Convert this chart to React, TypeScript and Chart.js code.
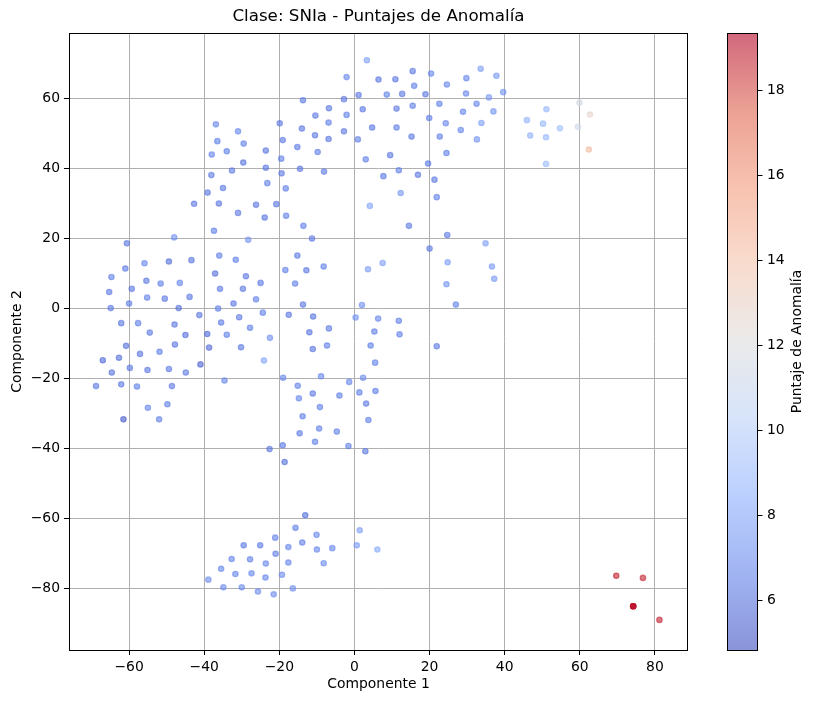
import { useEffect, useRef } from 'react';
import Chart from 'chart.js/auto';

// [Componente 1, Componente 2, Puntaje de Anomalía]
type Pt = [number, number, number];

const westCluster: Pt[] = [
  [-37.4, 22.1, 6.5], [-48.0, 20.2, 7.2], [-60.6, 18.5, 6.2], [-55.9, 12.8, 6.8],
  [-49.4, 13.3, 6.0], [-43.4, 13.7, 6.2], [-36.0, 15.0, 6.5], [-61.0, 11.3, 6.3],
  [-64.7, 8.9, 6.5], [-37.1, 9.9, 6.0], [-55.4, 7.8, 6.3], [-51.6, 7.0, 6.5],
  [-46.5, 7.2, 6.7], [-65.3, 4.6, 6.3], [-59.3, 5.5, 6.2], [-35.8, 5.5, 6.3],
  [-55.2, 3.0, 6.5], [-50.5, 2.7, 6.3], [-43.9, 3.2, 6.3], [-60.0, 1.3, 6.5],
  [-64.9, 0.0, 6.3], [-46.8, 0.0, 6.0], [-36.3, -0.1, 6.5], [-41.3, -2.0, 6.2],
  [-62.1, -4.3, 6.2], [-57.6, -4.3, 6.5], [-47.9, -4.7, 6.3], [-35.5, -4.1, 6.3],
  [-54.5, -7.0, 6.3], [-45.0, -7.7, 6.0], [-39.2, -7.4, 5.8], [-34.0, -7.6, 6.5],
  [-60.8, -10.8, 6.0], [-47.8, -10.4, 6.2], [-38.7, -11.3, 5.8], [-67.0, -14.9, 5.8],
  [-62.7, -14.2, 6.0], [-57.1, -13.1, 6.2], [-51.9, -12.5, 6.5], [-41.0, -16.1, 5.6],
  [-64.6, -18.4, 6.2], [-59.8, -17.1, 6.3], [-55.1, -17.7, 6.3], [-49.4, -17.4, 6.3],
  [-44.9, -18.4, 6.3], [-68.8, -22.3, 6.3], [-62.1, -21.8, 6.3], [-57.9, -22.4, 6.5],
  [-48.6, -22.3, 6.3], [-34.6, -20.7, 6.8], [-55.0, -28.5, 6.8], [-49.8, -27.5, 6.5],
  [-61.5, -31.8, 5.3], [-52.0, -31.8, 6.5],
];

const northCluster: Pt[] = [
  [-13.7, 59.4, 6.3], [-36.9, 52.5, 6.8], [-31.0, 50.5, 6.8], [-19.9, 52.8, 6.3],
  [-14.0, 51.3, 6.3], [-10.4, 55.0, 6.3], [-6.8, 57.1, 6.3], [-6.9, 53.0, 6.5],
  [-36.5, 47.7, 6.5], [-29.5, 47.0, 6.5], [-19.1, 48.0, 6.3], [-10.5, 49.4, 6.3],
  [-6.9, 48.3, 6.3], [-38.0, 43.9, 6.7], [-34.0, 44.8, 6.5], [-23.6, 45.0, 6.2],
  [-15.2, 46.0, 6.3], [-9.8, 44.6, 6.5], [-29.6, 41.6, 6.2], [-19.5, 42.7, 6.5],
  [-23.6, 40.1, 6.3], [-32.6, 39.3, 6.3], [-19.4, 38.5, 6.3], [-14.5, 39.8, 6.3],
  [-8.1, 39.0, 6.3], [-38.1, 38.0, 6.3], [-35.0, 34.3, 6.3], [-23.2, 35.7, 6.5],
  [-18.3, 34.2, 6.5], [-39.1, 33.0, 6.2], [-42.7, 29.8, 6.3], [-36.1, 29.9, 6.2],
  [-26.2, 29.5, 6.2], [-20.8, 29.7, 6.2], [-31.0, 27.2, 6.3], [-23.9, 25.9, 6.2],
  [-18.2, 26.4, 6.5], [-13.6, 23.5, 6.5], [-11.3, 19.9, 6.3], [-28.3, 19.5, 7.3],
  [-31.6, 13.8, 6.5], [-15.2, 15.0, 6.3], [-28.9, 9.1, 6.3], [-18.4, 10.9, 6.5],
  [-12.8, 10.8, 6.3], [-8.2, 11.9, 6.5],
  [3.3, 70.8, 7.8], [-2.1, 66.0, 6.8], [6.4, 65.3, 6.3], [10.9, 65.4, 6.3],
  [15.5, 67.7, 6.3], [15.9, 63.5, 6.5], [1.1, 60.9, 6.3], [8.6, 61.0, 6.5],
  [12.7, 61.2, 6.3], [-2.8, 59.7, 6.3], [2.2, 56.8, 6.3], [11.2, 57.0, 6.3],
  [15.5, 57.8, 6.5], [-2.1, 55.2, 6.5], [4.7, 51.6, 6.3], [11.2, 51.6, 6.5],
  [15.2, 49.0, 6.3], [-2.8, 50.5, 6.3], [0.9, 48.2, 6.5], [3.0, 42.5, 6.5],
  [9.5, 43.7, 6.3], [7.7, 37.7, 6.3], [11.8, 39.4, 6.5], [16.9, 38.1, 6.3],
  [12.3, 32.9, 7.5], [4.1, 29.2, 8.0], [14.5, 23.5, 6.3],
  [20.4, 67.0, 6.8], [18.9, 61.1, 6.3], [24.6, 63.9, 6.8], [29.8, 65.7, 6.8],
  [33.6, 68.4, 7.8], [37.8, 66.4, 7.5], [29.7, 61.3, 6.8], [35.8, 60.2, 7.5],
  [39.6, 61.7, 7.3], [22.6, 58.4, 6.5], [28.9, 56.1, 6.8], [32.5, 58.4, 6.8],
  [37.0, 56.2, 7.3], [19.9, 54.3, 6.5], [24.3, 52.8, 6.8], [33.8, 52.9, 7.8],
  [22.7, 49.0, 6.5], [28.3, 50.9, 6.8], [32.6, 48.2, 7.3], [24.5, 44.3, 6.5],
  [19.6, 41.3, 6.3], [21.3, 36.7, 6.3], [21.9, 31.7, 6.5], [24.7, 20.9, 6.3],
  [34.9, 18.5, 7.8], [36.6, 11.9, 7.5], [37.2, 8.4, 7.5],
];

const centralCluster: Pt[] = [
  [-29.7, 5.5, 6.3], [-25.0, 7.2, 6.3], [-15.8, 7.0, 6.5], [-32.2, 1.3, 6.3],
  [-26.2, 2.5, 6.5], [-13.7, 1.0, 6.2], [-30.7, -2.6, 6.3], [-24.4, -1.3, 6.5],
  [-17.5, -1.9, 6.3], [-11.0, -2.4, 6.2], [-27.8, -5.6, 6.5], [-22.5, -8.5, 7.2],
  [-12.0, -6.9, 6.2], [-6.8, -5.8, 6.3], [-7.3, -10.7, 6.5], [-30.2, -11.2, 6.3],
  [-11.1, -11.7, 6.2], [-24.1, -15.0, 8.0], [-19.0, -19.9, 6.8], [-8.9, -19.5, 6.8],
  [-15.1, -22.2, 6.7], [-11.1, -24.4, 6.3], [-14.8, -25.8, 6.8], [-9.2, -28.3, 6.5],
  [-13.8, -30.9, 6.5], [-9.4, -34.4, 6.5], [-14.6, -35.8, 6.3], [-10.5, -38.2, 6.5],
  [-22.6, -40.3, 6.2], [-19.1, -39.2, 6.3], [-18.6, -44.0, 6.0],
  [3.6, 11.1, 7.8], [7.5, 12.9, 7.8], [20.0, 17.0, 6.3], [24.8, 13.1, 7.8],
  [24.5, 6.8, 7.3], [2.0, 0.9, 7.2], [0.3, -2.7, 7.3], [6.3, -3.0, 6.8],
  [11.8, -3.6, 6.5], [5.3, -6.7, 6.5], [12.0, -7.5, 6.5], [4.3, -10.7, 6.5],
  [21.9, -10.9, 6.3], [5.5, -15.6, 6.5], [-1.4, -21.1, 6.8], [2.3, -19.9, 7.0],
  [-4.0, -25.0, 6.5], [1.3, -24.1, 6.5], [5.6, -23.7, 6.5], [3.1, -27.3, 6.3],
  [3.7, -32.0, 6.5], [-4.7, -35.3, 6.5], [-1.6, -39.4, 6.5], [2.9, -40.9, 6.2],
  [27.0, 1.0, 6.5],
];

const eastGroup: Pt[] = [
  [45.9, 53.7, 8.6], [51.1, 56.8, 8.8], [50.2, 52.7, 8.8], [54.7, 51.4, 9.2],
  [46.8, 49.3, 8.6], [51.0, 48.8, 8.8], [51.0, 41.2, 9.0], [59.9, 58.7, 11.5],
  [62.7, 55.3, 12.8], [59.5, 51.8, 11.3], [62.4, 45.3, 14.3],
];

const southCluster: Pt[] = [
  [-13.1, -59.2, 6.0], [-15.7, -62.8, 6.5], [-10.1, -64.8, 6.8], [1.4, -63.5, 7.8],
  [-21.1, -65.6, 6.5], [-13.9, -67.0, 6.5], [-29.5, -67.8, 6.3], [-25.1, -67.8, 6.3],
  [-17.6, -68.3, 6.8], [-10.0, -69.0, 6.8], [-5.9, -68.6, 6.8], [0.6, -67.8, 7.5],
  [6.1, -69.0, 8.3], [-21.0, -70.2, 6.5], [-32.7, -71.7, 6.8], [-27.8, -71.8, 6.5],
  [-23.6, -73.0, 6.8], [-17.6, -72.7, 6.8], [-8.2, -72.9, 7.0], [-35.5, -74.5, 6.8],
  [-31.7, -76.0, 6.8], [-27.4, -75.8, 6.8], [-23.7, -77.0, 6.8], [-19.3, -76.2, 7.0],
  [-38.9, -77.6, 7.0], [-34.9, -79.8, 7.0], [-30.0, -79.8, 7.0], [-25.7, -81.0, 7.0],
  [-21.5, -81.8, 7.0], [-16.4, -80.1, 7.2],
];

const outliers: Pt[] = [
  [69.7, -76.5, 18.8], [76.8, -77.1, 18.7], [81.2, -89.1, 18.8],
  [74.2, -85.2, 19.3], [74.2, -85.2, 19.2], [74.2, -85.2, 19.1], [74.2, -85.2, 19.0],
];

const xTicks = [-60, -40, -20, 0, 20, 40, 60, 80];
const yTicks = [-80, -60, -40, -20, 0, 20, 40, 60];
const cbTicks = [6, 8, 10, 12, 14, 16, 18];
const scoreMin = 4.82;
const scoreMax = 19.35;

const FONT = '"DejaVu Sans", sans-serif';
const ALPHA = 0.6;

// matplotlib coolwarm anchors
const coolwarm: [number, number, number, number][] = [
  [0.0, 59, 76, 192],
  [0.125, 98, 130, 234],
  [0.25, 141, 176, 254],
  [0.375, 188, 210, 247],
  [0.5, 221, 221, 221],
  [0.625, 244, 196, 173],
  [0.75, 244, 154, 123],
  [0.875, 222, 98, 77],
  [1.0, 180, 4, 38],
];

function cmap(v: number, a = ALPHA) {
  const t = Math.min(1, Math.max(0, (v - scoreMin) / (scoreMax - scoreMin)));
  let i = 0;
  while (i < coolwarm.length - 2 && t > coolwarm[i + 1][0]) i++;
  const [t0, r0, g0, b0] = coolwarm[i];
  const [t1, r1, g1, b1] = coolwarm[i + 1];
  const f = (t - t0) / (t1 - t0);
  const r = Math.round(r0 + (r1 - r0) * f);
  const g = Math.round(g0 + (g1 - g0) * f);
  const b = Math.round(b0 + (b1 - b0) * f);
  return `rgba(${r},${g},${b},${a})`;
}

const minus = (v: number | string) => String(v).replace('-', '\u2212');

const decorations = {
  id: 'decorations',
  afterDraw(chart: any) {
    const { ctx, chartArea } = chart;
    const { left, right, top, bottom } = chartArea;
    ctx.save();
    // frame
    ctx.strokeStyle = '#000';
    ctx.lineWidth = 1;
    ctx.strokeRect(left + 0.5, top + 0.5, right - left - 1, bottom - top);

    // title & axis labels
    ctx.fillStyle = '#000';
    ctx.textAlign = 'center';
    ctx.textBaseline = 'middle';
    ctx.font = `16.7px ${FONT}`;
    ctx.fillText('Clase: SNIa - Puntajes de Anomalía', (left + right) / 2, 17);
    ctx.font = `13.9px ${FONT}`;
    ctx.fillText('Componente 1', (left + right) / 2, 684);
    ctx.save();
    ctx.translate(17, (top + bottom) / 2);
    ctx.rotate(-Math.PI / 2);
    ctx.fillText('Componente 2', 0, 0);
    ctx.restore();

    // colorbar
    const cbL = 727;
    const cbR = 758;
    const h = bottom - top;
    const grad = ctx.createLinearGradient(0, bottom, 0, top);
    coolwarm.forEach(([t, r, g, b]) => {
      grad.addColorStop(t, `rgba(${r},${g},${b},${ALPHA})`);
    });
    ctx.fillStyle = grad;
    ctx.fillRect(cbL, top, cbR - cbL, h);
    ctx.strokeStyle = '#000';
    ctx.strokeRect(cbL + 0.5, top + 0.5, cbR - cbL - 1, h);
    ctx.fillStyle = '#000';
    ctx.textAlign = 'left';
    ctx.font = `13.9px ${FONT}`;
    cbTicks.forEach((v) => {
      const y = bottom - ((v - scoreMin) / (scoreMax - scoreMin)) * h;
      ctx.beginPath();
      ctx.moveTo(cbR - 0.5, Math.round(y) + 0.5);
      ctx.lineTo(cbR + 4.5, Math.round(y) + 0.5);
      ctx.stroke();
      ctx.fillText(String(v), cbR + 9, y);
    });
    ctx.save();
    ctx.translate(797, (top + bottom) / 2);
    ctx.rotate(-Math.PI / 2);
    ctx.textAlign = 'center';
    ctx.fillText('Puntaje de Anomalía', 0, 0);
    ctx.restore();
    ctx.restore();
  },
};

export default function App() {
  const canvasRef = useRef<HTMLCanvasElement | null>(null);

  useEffect(() => {
    const ctx = canvasRef.current?.getContext('2d');
    if (!ctx) return;

    const points = [
      ...westCluster,
      ...northCluster,
      ...centralCluster,
      ...eastGroup,
      ...southCluster,
      ...outliers,
    ];
    const colors = points.map((p) => cmap(p[2]));

    const chart = new Chart(ctx, {
      type: 'scatter',
      data: {
        datasets: [
          {
            label: 'SNIa',
            data: points.map((p) => ({ x: p[0], y: p[1] })),
            backgroundColor: colors,
            borderColor: colors,
            borderWidth: 1.2,
            pointRadius: 2.7,
            pointHoverRadius: 2.7,
          },
        ],
      },
      options: {
        animation: false,
        responsive: true,
        maintainAspectRatio: false,
        layout: { padding: { top: 33, right: 127, left: 0, bottom: 0 } },
        plugins: {
          legend: { display: false },
          tooltip: { enabled: false },
        },
        scales: {
          x: {
            type: 'linear',
            min: -76.0,
            max: 88.8,
            afterBuildTicks: (scale: any) => {
              scale.ticks = xTicks.map((value) => ({ value }));
            },
            afterFit: (scale: any) => {
              scale.height = 52;
            },
            border: { display: false },
            grid: {
              color: '#b0b0b0',
              lineWidth: 1,
              tickColor: '#000',
              tickLength: 5,
            },
            ticks: {
              color: '#000',
              padding: 4,
              maxRotation: 0,
              font: { family: FONT, size: 13.9 },
              callback: (v: any) => minus(v),
            },
          },
          y: {
            type: 'linear',
            min: -97.7,
            max: 78.6,
            afterBuildTicks: (scale: any) => {
              scale.ticks = yTicks.map((value) => ({ value }));
            },
            afterFit: (scale: any) => {
              scale.width = 69;
            },
            border: { display: false },
            grid: {
              color: '#b0b0b0',
              lineWidth: 1,
              tickColor: '#000',
              tickLength: 5,
            },
            ticks: {
              color: '#000',
              padding: 4,
              font: { family: FONT, size: 13.9 },
              callback: (v: any) => minus(v),
            },
          },
        },
      },
      plugins: [decorations],
    });

    return () => {
      chart.destroy();
    };
  }, []);

  return (
    <div style={{ position: 'fixed', left: 0, top: 0, width: 815, height: 702, background: '#fff' }}>
      <canvas ref={canvasRef}></canvas>
    </div>
  );
}
